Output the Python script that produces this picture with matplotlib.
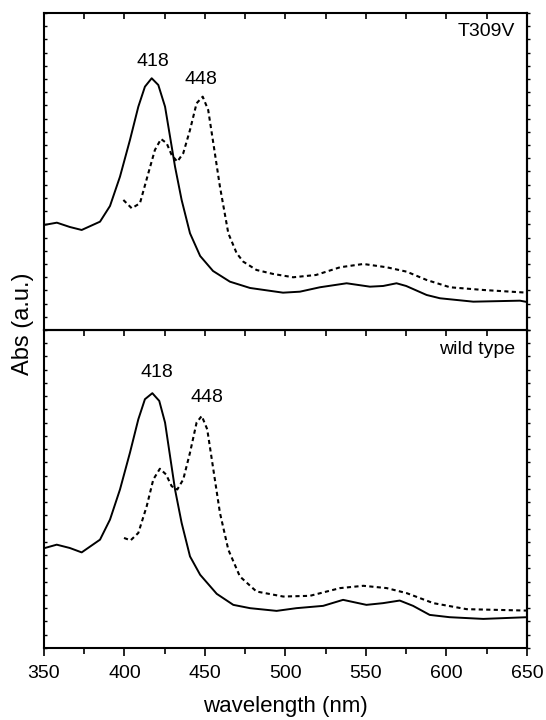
import numpy as np
import matplotlib.pyplot as plt
from matplotlib.ticker import MultipleLocator

plt.rcParams['font.family'] = ['Liberation Sans', 'DejaVu Sans']

# T309V (top panel), arbitrary absorbance units
t_solid_nm = [350, 358, 366, 373.4, 384.8, 391, 397.2, 403.4, 408.6, 412.7, 416.9, 421, 425.2,
              428.3, 431.4, 435.5, 440.7, 447, 455, 465.5, 478, 498.5, 509, 521.4, 538, 552.5,
              560.7, 569, 575, 587.7, 596, 616.7, 645.7, 650]
t_solid_abs = [105, 107.3, 103, 100, 108.3, 124, 153.3, 190, 223.3, 243.3, 251.7, 245, 223.3,
               193.3, 163.3, 130, 96.7, 74, 59, 48.3, 42, 37.3, 38.3, 42.7, 46.7, 43.3,
               44, 46.7, 44, 35, 31.7, 28.3, 29.3, 28]
t_dash_nm = [399.3, 404.5, 409.6, 414.8, 418.9, 422.7, 426.2, 429.3, 432.8, 436.5, 440.7, 444.8,
             448.6, 452, 455.2, 459.3, 464.5, 469.7, 473.8, 482, 492.4, 504.8, 519, 533.9,
             548.4, 562.9, 575.3, 587.7, 602.2, 622.9, 650]
t_dash_abs = [130, 121.7, 126.7, 156.7, 180, 191, 186.7, 175, 168.3, 176.7, 200, 226.7,
              233.3, 220, 186.7, 143.3, 96.7, 76.7, 68.3, 60, 56, 52.7, 55, 62.7,
              66, 62.7, 58.3, 50, 42.7, 40, 37.3]

# wild type (bottom panel)
w_solid_nm = [350.6, 357.9, 366, 373.4, 384.8, 391, 397.2, 403.4, 408.6, 412.7, 417.3, 421.6,
              425.2, 428.3, 431.4, 435.5, 440.7, 447, 457.3, 467.6, 478, 494.5, 506.8, 523.4,
              535.8, 550.3, 560.6, 571, 579.3, 589.6, 602, 622.9, 650]
w_solid_abs = [99.7, 103, 99.7, 95.3, 108, 128, 158, 194.7, 228, 248, 254, 246.3,
               224.7, 191.3, 158, 124.7, 91.3, 73, 54, 43, 39.7, 37, 39.7, 42,
               48, 43, 44.7, 47.3, 42, 33, 30.7, 29, 30.7]
w_dash_nm = [399.7, 403.8, 408.6, 413.8, 417.9, 422, 425.8, 429.3, 432.8, 436.5, 440.7, 444.8,
             448, 451.4, 455.2, 459.3, 464.5, 471.7, 482, 498.6, 515.2, 533.9, 548.4, 562.9,
             575.3, 591.9, 612.6, 650]
w_dash_abs = [109.7, 107.3, 114.7, 141.3, 168, 178.7, 173, 161.3, 158, 168, 194.7, 224.7,
              231.3, 218, 178, 134.7, 98, 71.3, 56.3, 51.3, 52, 59.7, 62, 59.7,
              54.7, 44.7, 38.7, 37.3]

fig = plt.figure(figsize=(5.46, 7.2), dpi=100)
ax1 = fig.add_axes([0.0806, 0.5417, 0.8844, 0.4403])
ax2 = fig.add_axes([0.0806, 0.1, 0.8844, 0.4417])

panels = [
    (ax1, t_solid_nm, t_solid_abs, t_dash_nm, t_dash_abs, 'T309V', (417.7, 268), (447.5, 250)),
    (ax2, w_solid_nm, w_solid_abs, w_dash_nm, w_dash_abs, 'wild type', (420, 275), (451, 250)),
]

for ax, sx, sy, dx, dy, name, p1, p2 in panels:
    ax.plot(sx, sy, color='black', lw=1.4)
    ax.plot(dx, dy, color='black', lw=1.5, linestyle=(0, (2, 1.6)))
    ax.set_xlim(350, 650)
    ax.set_ylim(0, 317)
    ax.text(p1[0], p1[1], '418', ha='center', va='center', fontsize=14)
    ax.text(p2[0], p2[1], '448', ha='center', va='center', fontsize=14)
    ax.text(642.5, 298, name, ha='right', va='center', fontsize=14)
    for s in ax.spines.values():
        s.set_linewidth(1.5)
    ax.xaxis.set_major_locator(MultipleLocator(50))
    ax.xaxis.set_minor_locator(MultipleLocator(25))
    ax.yaxis.set_major_locator(MultipleLocator(317 / 24))
    ax.tick_params(axis='y', which='both', left=True, right=False, labelleft=False,
                   labelright=False, direction='in', length=2, width=1)
    # right side ticks pointing outward
    ay = ax.secondary_yaxis('right')
    ay.yaxis.set_major_locator(MultipleLocator(317 / 24))
    ay.tick_params(direction='out', length=2, width=1, labelright=False, labelleft=False)
    ay.spines['right'].set_linewidth(1.5)

ax1.tick_params(axis='x', which='both', top=True, bottom=False, labelbottom=False,
                direction='in', length=4, width=1.2)
ax2.tick_params(axis='x', which='major', top=False, bottom=True, labelbottom=True,
                direction='out', length=6, width=1.2, labelsize=14, pad=6)
ax2.tick_params(axis='x', which='minor', top=False, bottom=True,
                direction='out', length=4, width=1.2)
ax2b = ax2.secondary_xaxis('top')
ax2b.xaxis.set_major_locator(MultipleLocator(25))
ax2b.tick_params(direction='in', length=4, width=1.2, labeltop=False)

ax2.set_xlabel('wavelength (nm)', fontsize=16, labelpad=10)
fig.text(0.042, 0.551, 'Abs (a.u.)', rotation=90, ha='center', va='center', fontsize=17)

fig.savefig('out.png', dpi=100)
